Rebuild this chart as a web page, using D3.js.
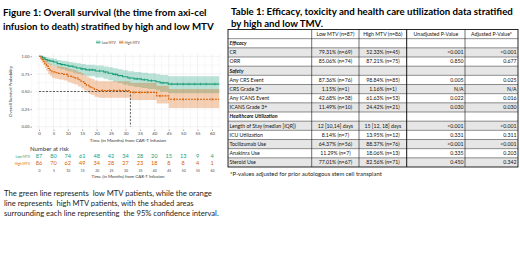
<!DOCTYPE html>
<html>
<head>
<meta charset="utf-8">
<script src="https://cdn.jsdelivr.net/npm/d3@7"></script>
<style>
  body { margin: 0; background: #fff; }
  svg { display: block; font-family: Lato, "Open Sans", sans-serif; }
</style>
</head>
<body>
<div id="chart"></div>
<script>
// ---- survival curves (step points, months) ----
const lowT  = [0, 1.2, 2.1, 2.9, 3.8, 5.0, 6.3, 7.5, 9.0, 10.2, 11.8, 13.0, 14.5, 16.2, 19.5, 22.4, 24.0, 25.6, 27.3, 29.0, 30.8, 33.0, 35.5, 37.8, 40.6, 42.0, 44.8, 62.5];
const lowS  = [1.0, 0.977, 0.954, 0.942, 0.931, 0.919, 0.896, 0.884, 0.872, 0.860, 0.847, 0.834, 0.821, 0.807, 0.792, 0.776, 0.760, 0.743, 0.726, 0.709, 0.692, 0.680, 0.667, 0.653, 0.638, 0.622, 0.605, 0.605];
const lowLo = [1.0, 0.946, 0.91, 0.894, 0.878, 0.862, 0.832, 0.816, 0.80, 0.784, 0.768, 0.752, 0.736, 0.718, 0.70, 0.68, 0.66, 0.64, 0.62, 0.60, 0.58, 0.565, 0.55, 0.534, 0.516, 0.498, 0.475, 0.475];
const lowHi = [1.0, 1.0, 0.99, 0.982, 0.973, 0.965, 0.948, 0.938, 0.928, 0.918, 0.91, 0.90, 0.89, 0.88, 0.868, 0.855, 0.843, 0.83, 0.816, 0.802, 0.788, 0.778, 0.768, 0.757, 0.745, 0.733, 0.715, 0.715];
const lowCens = [8, 15, 17.5, 18.5, 21, 23, 26.5, 31.5, 34, 36.5, 39, 43, 46, 48, 50, 52, 54, 56, 58, 61];

const highT  = [0, 0.5, 1.0, 1.5, 2.0, 2.6, 3.2, 3.8, 4.5, 5.5, 6.8, 8.5, 10.0, 11.2, 12.4, 13.5, 14.6, 15.5, 16.4, 17.3, 18.2, 19.2, 20.5, 31.7, 40.8, 45.0, 62.5];
const highS  = [1.0, 0.977, 0.953, 0.930, 0.895, 0.860, 0.826, 0.802, 0.779, 0.767, 0.755, 0.743, 0.719, 0.706, 0.693, 0.667, 0.642, 0.616, 0.591, 0.566, 0.553, 0.528, 0.514, 0.487, 0.438, 0.389, 0.389];
const highLo = [1.0, 0.946, 0.91, 0.878, 0.833, 0.79, 0.75, 0.722, 0.695, 0.682, 0.669, 0.656, 0.63, 0.615, 0.60, 0.572, 0.545, 0.517, 0.49, 0.463, 0.45, 0.424, 0.41, 0.38, 0.33, 0.265, 0.265];
const highHi = [1.0, 1.0, 0.998, 0.985, 0.962, 0.936, 0.909, 0.89, 0.871, 0.861, 0.852, 0.842, 0.822, 0.811, 0.80, 0.778, 0.756, 0.733, 0.711, 0.69, 0.678, 0.657, 0.645, 0.622, 0.58, 0.535, 0.535];
const highCens = [22, 24.5, 26, 28, 30, 33, 35, 37.5, 42, 47, 50, 55, 60];

const medianTime = 31.7;

// ---- number at risk ----
const riskTimes = [0, 5, 10, 15, 20, 25, 30, 35, 40, 45, 50, 55, 60];
const riskLow  = [87, 80, 74, 61, 48, 42, 34, 28, 20, 15, 13, 9, 4];
const riskHigh = [86, 70, 62, 49, 34, 28, 27, 23, 18, 8, 8, 4, 1];

const yTicks = [0, 0.25, 0.5, 0.75, 1];

// ---- table ----
const tableHeader = ["", "Low MTV (n=87)", "High MTV (n=86)", "Unadjusted P-Value", "Adjusted P-Value*"];
const tableLabels = ["Efficacy", "CR", "ORR", "Safety", "Any CRS Event", "CRS Grade 3+", "Any ICANS Event", "ICANS Grade 3+",
  "Healthcare Utilization", "Length of Stay (median [IQR])", "ICU Utilization", "Tocilizumab Use", "Anakinra Use", "Steroid Use"];
const sectionRows = ["Efficacy", "Safety", "Healthcare Utilization"];
const colLow  = ["", "79.31% (n=69)", "85.06% (n=74)", "", "87.36% (n=76)", "1.15% (n=1)", "42.68% (n=38)", "11.49% (n=10)",
  "", "12 [10,14] days", "8.14% (n=7)", "64.37% (n=56)", "11.29% (n=7)", "77.01% (n=67)"];
const colHigh = ["", "52.33% (n=45)", "87.21% (n=75)", "", "98.84% (n=85)", "1.16% (n=1)", "61.63% (n=53)", "24.42% (n=21)",
  "", "15 [12, 18] days", "13.95% (n=12)", "88.37% (n=76)", "18.06% (n=13)", "82.56% (n=71)"];
const colUnadj = ["", "<0.001", "0.850", "", "0.005", "N/A", "0.022", "0.030", "", "<0.001", "0.331", "<0.001", "0.335", "0.450"];
const colAdj   = ["", "<0.001", "0.677", "", "0.025", "N/A", "0.016", "0.030", "", "<0.001", "0.311", "<0.001", "0.203", "0.342"];

const green = "#1b9e77", orange = "#d95f02";

const svg = d3.select("#chart").append("svg")
  .attr("width", 520).attr("height", 260);
svg.append("rect").attr("width", 520).attr("height", 260).attr("fill", "#fff");

// scale a text's font so it spans the given width
function fitWidth(sel, w) {
  sel.each(function () {
    const len = this.getComputedTextLength();
    const fs = parseFloat(d3.select(this).style("font-size"));
    d3.select(this).style("font-size", (fs * w / len) + "px");
  });
}

// ---- titles ----
svg.append("text").attr("x", 3).attr("y", 16).attr("font-weight", "bold").style("font-size", "10px")
  .text("Figure 1: Overall survival (the time from axi-cel").call(fitWidth, 204);
svg.append("text").attr("x", 3).attr("y", 30).attr("font-weight", "bold").style("font-size", "10px")
  .text("infusion to death) stratified by high and low MTV").call(fitWidth, 211);

// ---- KM plot ----
const x = d3.scaleLinear().domain([0, 60]).range([39, 212]);
const y = d3.scaleLinear().domain([0, 1]).range([126.7, 56.3]);
const panel = svg.append("g");

// grid
const gx = d3.range(-2.5, 63, 2.5), gy = d3.range(0, 1.01, 0.125);
panel.selectAll(".gx").data(gx).join("line")
  .attr("x1", d => x(d)).attr("x2", d => x(d)).attr("y1", y(-0.04)).attr("y2", y(1.04))
  .attr("stroke", d => d % 5 === 0 ? "#e4e4e4" : "#f1f1f1").attr("stroke-width", 0.5);
panel.selectAll(".gy").data(gy).join("line")
  .attr("x1", x(-1.2)).attr("x2", x(63)).attr("y1", d => y(d)).attr("y2", d => y(d))
  .attr("stroke", d => (d * 4) % 1 === 0 ? "#e4e4e4" : "#f1f1f1").attr("stroke-width", 0.5);

function pts(T, V) { return T.map((t, i) => [t, V[i]]); }
const band = d3.area().curve(d3.curveStepAfter).x(d => x(d[0])).y0(d => y(d[1])).y1(d => y(d[2]));
const line = d3.line().curve(d3.curveStepAfter).x(d => x(d[0])).y(d => y(d[1]));

panel.append("path").datum(lowT.map((t, i) => [t, lowLo[i], lowHi[i]]))
  .attr("d", band).attr("fill", green).attr("fill-opacity", 0.3);
panel.append("path").datum(highT.map((t, i) => [t, highLo[i], highHi[i]]))
  .attr("d", band).attr("fill", orange).attr("fill-opacity", 0.3);

// median lines
panel.append("path")
  .attr("d", `M${x(0)},${y(0.5)}H${x(medianTime)}V${y(0)}`)
  .attr("fill", "none").attr("stroke", "#333").attr("stroke-width", 0.8).attr("stroke-dasharray", "2,1.5");

panel.append("path").datum(pts(lowT, lowS)).attr("d", line)
  .attr("fill", "none").attr("stroke", green).attr("stroke-width", 1.1);
panel.append("path").datum(pts(highT, highS)).attr("d", line)
  .attr("fill", "none").attr("stroke", orange).attr("stroke-width", 1.1).attr("stroke-dasharray", "2,1");

function stepAt(T, S, t) { let v = S[0]; T.forEach((tt, i) => { if (tt <= t) v = S[i]; }); return v; }
panel.selectAll(".cl").data(lowCens).join("line")
  .attr("x1", d => x(d)).attr("x2", d => x(d))
  .attr("y1", d => y(stepAt(lowT, lowS, d)) - 1.3).attr("y2", d => y(stepAt(lowT, lowS, d)) + 1.3)
  .attr("stroke", green).attr("stroke-width", 0.7);
panel.selectAll(".ch").data(highCens).join("line")
  .attr("x1", d => x(d)).attr("x2", d => x(d))
  .attr("y1", d => y(stepAt(highT, highS, d)) - 1.3).attr("y2", d => y(stepAt(highT, highS, d)) + 1.3)
  .attr("stroke", orange).attr("stroke-width", 0.7);

// axes
const yAxis = svg.append("g").attr("transform", "translate(32,0)")
  .call(d3.axisLeft(y).tickValues(yTicks).tickFormat(d3.format(".2f")).tickSize(1.5).tickPadding(1));
const xAxis = svg.append("g").attr("transform", `translate(0,${y(-0.04)})`)
  .call(d3.axisBottom(x).tickValues(riskTimes).tickSize(1.5).tickPadding(0.8));
[yAxis, xAxis].forEach(a => {
  a.select(".domain").remove();
  a.selectAll("line").attr("stroke", "#555").attr("stroke-width", 0.5);
  a.selectAll("text").attr("fill", "#444").style("font-size", "4px").style("font-family", "Lato, sans-serif");
});
xAxis.selectAll("text").style("font-size", "4.4px");

svg.append("text").attr("x", (x(0) + 217) / 2).attr("y", 141.5).attr("text-anchor", "middle")
  .style("font-size", "4.6px").attr("fill", "#333").text("Time (in Months) from CAR-T Infusion");
svg.append("text").attr("transform", `translate(12,${y(0.5)}) rotate(-90)`).attr("text-anchor", "middle")
  .style("font-size", "4.3px").attr("fill", "#333").text("Overall Survival Probability");

// legend
const legend = [{ k: "Low MTV", c: green, x: 96 }, { k: "High MTV", c: orange, x: 119 }];
const lg = svg.selectAll(".lg").data(legend).join("g").attr("transform", d => `translate(${d.x},40.5)`);
lg.append("rect").attr("width", 4.5).attr("height", 3.5).attr("fill", d => d.c).attr("fill-opacity", 0.3);
lg.append("line").attr("x1", 0).attr("x2", 4.5).attr("y1", 1.75).attr("y2", 1.75).attr("stroke", d => d.c).attr("stroke-width", 0.7);
lg.append("text").attr("x", 5.8).attr("y", 3.1).style("font-size", "3.3px").attr("fill", "#444").text(d => d.k);

// ---- number at risk table ----
svg.append("text").attr("x", 30).attr("y", 151).style("font-size", "6px").attr("fill", "#333").text("Number at risk");
const riskRows = [{ k: "Low MTV", v: riskLow, c: green, y: 158 }, { k: "High MTV", v: riskHigh, c: orange, y: 164.5 }];
const rr = svg.selectAll(".rr").data(riskRows).join("g");
rr.append("text").attr("x", 30).attr("y", d => d.y).attr("text-anchor", "end")
  .style("font-size", "3.4px").attr("fill", d => d.c).text(d => d.k);
rr.selectAll(".n").data(d => d.v.map((v, i) => ({ v, t: riskTimes[i], c: d.c, y: d.y }))).join("text")
  .attr("x", d => x(d.t)).attr("y", d => d.y).attr("text-anchor", "middle")
  .style("font-size", "5.6px").attr("fill", d => d.c).text(d => d.v);
svg.append("g").attr("transform", "translate(0,167)")
  .call(d3.axisBottom(x).tickValues(riskTimes).tickSize(0).tickPadding(3))
  .call(g => g.select(".domain").remove())
  .selectAll("text").style("font-size", "3.4px").attr("fill", "#444").style("font-family", "Lato, sans-serif");
svg.append("text").attr("x", (x(0) + 217) / 2).attr("y", 177.5).attr("text-anchor", "middle")
  .style("font-size", "4.4px").attr("fill", "#333").text("Time (in Months) from CAR-T Infusion");

// ---- caption ----
const caption = [
  ["The green line represents  low MTV patients, while the orange", 208],
  ["line represents  high MTV patients, with the shaded areas", 190],
  ["surrounding each line representing  the 95% confidence interval.", 215]
];
caption.forEach((c, i) => {
  svg.append("text").attr("x", 4).attr("y", 196 + i * 10).style("font-size", "7px").attr("fill", "#222")
    .attr("xml:space", "preserve").style("white-space", "pre").text(c[0]).call(fitWidth, c[1]);
});

// ---- table 1 ----
svg.append("text").attr("x", 231).attr("y", 15).attr("font-weight", "bold").style("font-size", "9px")
  .text("Table 1: Efficacy, toxicity and health care utilization data stratified").call(fitWidth, 282);
svg.append("text").attr("x", 231).attr("y", 27).attr("font-weight", "bold").style("font-size", "9px")
  .text("by high and low TMV.").call(fitWidth, 92);

const colEdges = [228, 311.7, 359, 406.7, 465, 518];
const rowKeys = ["__head"].concat(tableLabels);
const ry = d3.scaleBand().domain(rowKeys).range([29.5, 167]);
const tbl = svg.append("g").style("font-size", "5.2px");

tbl.selectAll(".bg").data(tableLabels).join("rect")
  .attr("x", colEdges[0]).attr("width", colEdges[5] - colEdges[0])
  .attr("y", d => ry(d)).attr("height", ry.bandwidth())
  .attr("fill", (d, i) => i % 2 === 1 ? "#e6e6e6" : "#fff");

const cols = [tableLabels, colLow, colHigh, colUnadj, colAdj];
rowKeys.forEach((k, r) => {
  const isHead = r === 0, isSec = sectionRows.includes(k);
  for (let c = 0; c < 5; c++) {
    const txt = isHead ? tableHeader[c] : cols[c][r - 1];
    if (!txt) continue;
    let tx, anchor;
    if (c === 0) { tx = colEdges[0] + 1.5; anchor = "start"; }
    else if (c <= 2 || isHead) { tx = (colEdges[c] + colEdges[c + 1]) / 2; anchor = "middle"; }
    else { tx = colEdges[c + 1] - 1.5; anchor = "end"; }
    tbl.append("text").attr("x", tx).attr("y", ry(k) + ry.bandwidth() / 2 + 1.8)
      .attr("text-anchor", anchor).attr("fill", "#111")
      .attr("font-weight", isSec ? "bold" : null).attr("font-style", isSec ? "italic" : null)
      .text(txt);
  }
});

// cell borders
tbl.selectAll(".hl").data(rowKeys.slice(1)).join("line")
  .attr("x1", colEdges[0]).attr("x2", colEdges[5]).attr("y1", d => ry(d)).attr("y2", d => ry(d))
  .attr("stroke", "#222").attr("stroke-width", 0.5);
tbl.selectAll(".vl").data(colEdges.slice(1, 5)).join("line")
  .attr("x1", d => d).attr("x2", d => d).attr("y1", ry("__head")).attr("y2", 167)
  .attr("stroke", "#111").attr("stroke-width", (d, i) => i === 2 ? 1 : 0.6);
tbl.append("rect").attr("x", colEdges[0]).attr("y", 29.5).attr("width", colEdges[5] - colEdges[0]).attr("height", 167 - 29.5)
  .attr("fill", "none").attr("stroke", "#111").attr("stroke-width", 0.9);

svg.append("text").attr("x", 230).attr("y", 176).style("font-size", "5px").attr("fill", "#222")
  .text("*P-values adjusted for prior autologous stem cell transplant").call(fitWidth, 152);
</script>
</body>
</html>
